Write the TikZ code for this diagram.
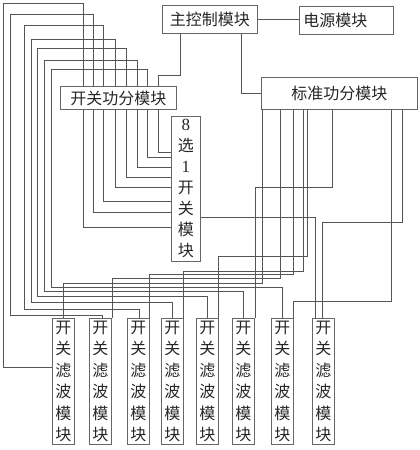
\documentclass[tikz,border=0pt]{standalone}
\usepackage{fontspec}
\newfontfamily\cjk{Noto Sans CJK SC}
\newfontfamily\digit{Liberation Serif}
\definecolor{wire}{HTML}{555555}
\definecolor{frame}{HTML}{666666}

\begin{document}
\begin{tikzpicture}[x=1pt, y=-1pt,
    box/.style={draw=frame, line width=0.9pt, inner sep=0pt, anchor=north west,
      font=\cjk\fontsize{16}{21.5}\selectfont, text=black!85},
    col/.style={box, align=center},
    wire/.style={draw=wire, line width=0.8pt},
  ]
  \useasboundingbox (0,0) rectangle (420,450);

  % Control and power
  \node[box, minimum width=95pt, minimum height=28pt] (ctrl) at (162,5) {主控制模块};
  \node[box, text width=86pt, inner xsep=4pt, minimum height=28pt, align=left] (power) at (299,6) {电源模块};

  % Power dividers
  \node[box, minimum width=116pt, minimum height=23pt] (kg) at (60,86) {开关功分模块};
  \node[box, minimum width=156pt, minimum height=32pt] (std) at (261,77) {标准功分模块};

  % 8-to-1 switch
  \node[col, minimum width=29pt, minimum height=145pt, font=\cjk\fontsize{16}{21}\selectfont]
    (sel) at (171,116) {{\digit\fontsize{17}{21}\selectfont 8}\\选\\{\digit\fontsize{17}{21}\selectfont 1}\\开\\关\\模\\块};

  % Switch filter modules
  \foreach \i/\x in {1/52, 2/89, 3/127, 4/161, 5/196, 6/232, 7/271, 8/312}
    \node[col, minimum width=22pt, minimum height=126pt] (f\i) at (\x,318) {开\\关\\滤\\波\\模\\块};

  % Control links
  \draw[wire] (ctrl.east) -- (ctrl.east -| power.west);
  \draw[wire] (180,0 |- ctrl.south) |- (158,75) -- (158,0 |- kg.north);
  \draw[wire] (241,0 |- ctrl.south) |- (std.west |- 0,93);

  % Switch divider -> 8-to-1 switch
  \foreach \x/\y in {83/227, 93/212, 103/201, 115/187, 126/177, 137/167, 147/157, 158/152}
    \draw[wire] (\x,0 |- kg.south) |- (sel.west |- 0,\y);

  % Switch divider -> filters, round the left side
  \draw[wire] (83,0 |- kg.north) |- (3,3) |- (f1.west |- 0,367);
  \foreach \x/\y/\l/\t/\i/\c in {93/14/10/315/2/102, 103/25/24/309/3/139, 115/39/31/302/4/172,
      126/48/37/296/5/207, 137/60/44/291/6/243, 147/69/51/287/7/282}
    \draw[wire] (\x,0 |- kg.north) |- (\l,\y) |- (\c,\t) -- (\c,0 |- f\i.north);

  % Standard divider -> filters
  \foreach \x/\t/\i/\c in {262/283/1/63, 280/278/2/112, 293/274/3/149, 303/271/4/183,
      307/256/5/218, 332/187/6/255, 391/301/7/293, 402/222/8/322}
    \draw[wire] (\x,0 |- std.south) |- (\c,\t) -- (\c,0 |- f\i.north);

  % 8-to-1 switch output
  \draw[wire] (sel.east |- 0,217) -| (315,0 |- f8.north);
\end{tikzpicture}
\end{document}
